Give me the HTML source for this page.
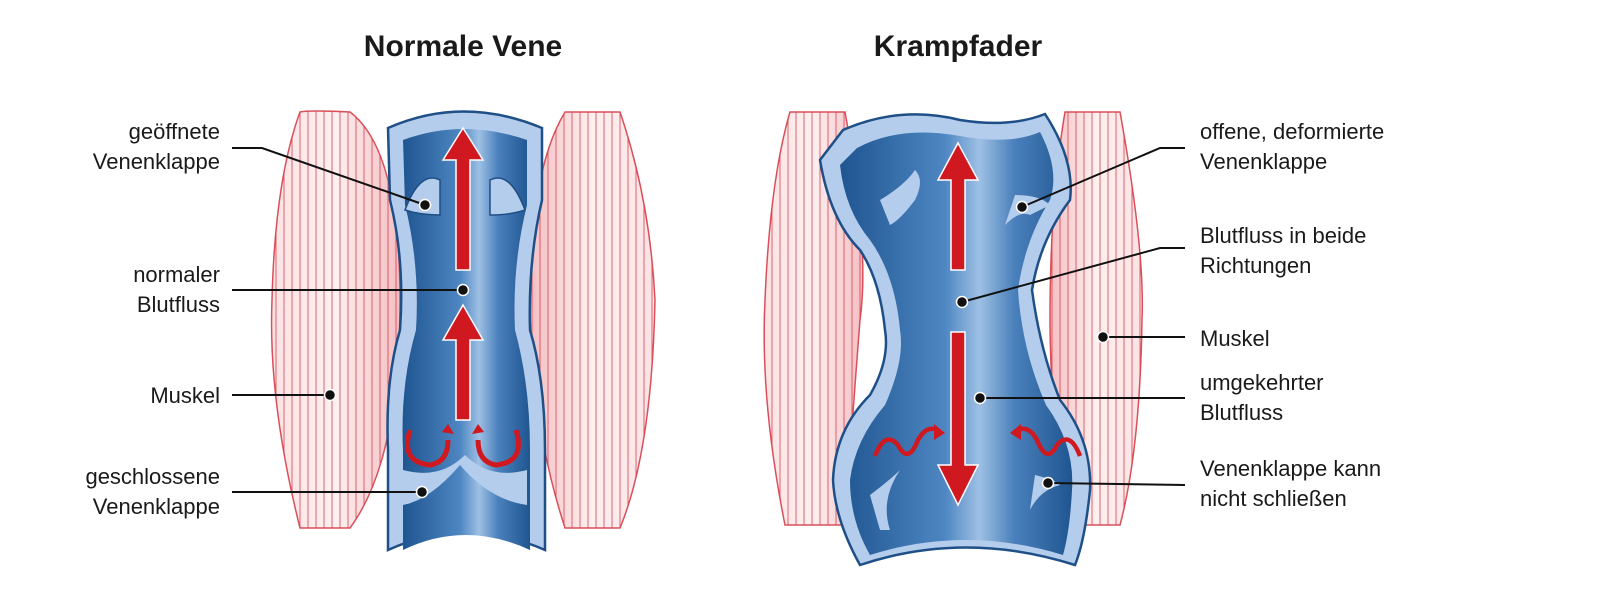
<!DOCTYPE html>
<html><head><meta charset="utf-8"><style>
html,body{margin:0;padding:0;background:#fff;}
svg{display:block;}
text{font-family:"Liberation Sans",sans-serif;fill:#1a1a1a;}
</style></head><body>
<svg width="1600" height="613" viewBox="0 0 1600 613" xmlns="http://www.w3.org/2000/svg">
<defs>
<linearGradient id="mus" x1="0" x2="1" y1="0" y2="0">
<stop offset="0" stop-color="#fbe3e5"/><stop offset="0.5" stop-color="#fdf0f0"/><stop offset="1" stop-color="#f4bfc3"/>
</linearGradient>
<linearGradient id="mus2" x1="0" x2="1" y1="0" y2="0">
<stop offset="0" stop-color="#f4bfc3"/><stop offset="0.5" stop-color="#fdf0f0"/><stop offset="1" stop-color="#fbe3e5"/>
</linearGradient>
<linearGradient id="inner" x1="0" x2="1">
<stop offset="0" stop-color="#1f5590"/><stop offset="0.45" stop-color="#4d86c2"/><stop offset="0.6" stop-color="#9ec0e4"/><stop offset="0.75" stop-color="#4a80bb"/><stop offset="1" stop-color="#1f5590"/>
</linearGradient>
<pattern id="lines" width="8" height="10" patternUnits="userSpaceOnUse"><line x1="4" y1="0" x2="4" y2="10" stroke="#d8404c" stroke-width="1"/></pattern>
</defs>

<text x="463" y="56" font-size="30" font-weight="bold" text-anchor="middle">Normale Vene</text>
<text x="958" y="56" font-size="30" font-weight="bold" text-anchor="middle">Krampfader</text>

<!-- left muscles -->
<path d="M300,112 Q310,110 350,112 Q400,150 400,300 Q400,460 350,528 L300,528 Q268,400 272,300 Q275,180 300,112Z" fill="url(#mus)" stroke="#d9505a" stroke-width="1.5"/>
<path d="M300,112 Q310,110 350,112 Q400,150 400,300 Q400,460 350,528 L300,528 Q268,400 272,300 Q275,180 300,112Z" fill="url(#lines)" opacity="0.8"/>
<path d="M565,112 L620,112 Q650,200 655,300 Q652,450 620,528 L565,528 Q530,420 530,300 Q530,170 565,112Z" fill="url(#mus2)" stroke="#d9505a" stroke-width="1.5"/>
<path d="M565,112 L620,112 Q650,200 655,300 Q652,450 620,528 L565,528 Q530,420 530,300 Q530,170 565,112Z" fill="url(#lines)" opacity="0.8"/>

<!-- left vein -->
<path d="M388,128 Q463,95 542,128 L542,200 Q528,260 530,330 Q545,380 545,450 L545,550 Q465,515 388,550 L388,450 Q385,380 400,330 Q405,260 390,200Z" fill="#b5cdec" stroke="#1e4f86" stroke-width="2.5"/>
<path d="M403,140 Q463,118 527,140 L527,205 Q512,265 515,330 Q530,385 530,450 L530,550 Q465,520 403,550 L403,450 Q400,385 416,330 Q420,265 405,205Z" fill="url(#inner)"/>
<path d="M403,505 Q430,500 460,465 Q490,500 527,505 L527,470 Q490,480 465,455 Q440,480 403,470Z" fill="#b5cdec"/>
<path d="M405,210 Q420,170 440,180 L440,215 Q420,215 405,210Z M525,210 Q510,170 490,180 L490,215 Q510,215 525,210Z" fill="#b5cdec" stroke="#1e4f86" stroke-width="1.5"/>
<path d="M456,270 L456,160 L443,160 L463,128 L483,160 L470,160 L470,270Z" fill="#d01820" stroke="#fff" stroke-width="1.5"/>
<path d="M456,420 L456,340 L443,340 L463,305 L483,340 L470,340 L470,420Z" fill="#d01820" stroke="#fff" stroke-width="1.5"/>
<path d="M410,430 Q400,462 430,465 Q448,462 448,440" fill="none" stroke="#d01820" stroke-width="5"/>
<path d="M516,430 Q526,462 496,465 Q478,462 478,440" fill="none" stroke="#d01820" stroke-width="5"/>
<path d="M442,432 L448,424 L454,434Z M472,434 L478,424 L484,432Z" fill="#d01820"/>

<!-- right muscles -->
<path d="M790,112 L845,112 Q870,250 860,320 Q850,450 845,525 L785,525 Q760,400 765,300 Q770,180 790,112Z" fill="url(#mus)" stroke="#d9505a" stroke-width="1.5"/>
<path d="M790,112 L845,112 Q870,250 860,320 Q850,450 845,525 L785,525 Q760,400 765,300 Q770,180 790,112Z" fill="url(#lines)" opacity="0.8"/>
<path d="M1065,112 L1120,112 Q1145,250 1142,320 Q1140,450 1120,525 L1065,525 Q1050,400 1050,320 Q1050,200 1065,112Z" fill="url(#mus2)" stroke="#d9505a" stroke-width="1.5"/>
<path d="M1065,112 L1120,112 Q1145,250 1142,320 Q1140,450 1120,525 L1065,525 Q1050,400 1050,320 Q1050,200 1065,112Z" fill="url(#lines)" opacity="0.8"/>

<!-- right vein -->
<path d="M843,130 Q900,105 960,120 Q1010,128 1045,114 Q1075,160 1070,200 Q1040,240 1032,290 Q1040,350 1060,400 Q1092,440 1090,490 Q1085,540 1075,565 Q965,530 860,565 Q835,520 833,480 Q835,430 870,395 Q890,360 885,330 Q880,280 860,250 Q830,220 820,160Z" fill="#b5cdec" stroke="#1e4f86" stroke-width="2.5"/>
<path d="M857,148 Q900,125 960,136 Q1010,145 1040,132 Q1060,170 1050,200 Q1025,240 1018,290 Q1022,350 1046,405 Q1075,445 1072,490 Q1070,530 1063,555 Q965,525 870,555 Q850,520 850,480 Q855,440 885,405 Q905,360 900,330 Q895,275 870,240 Q845,210 840,165Z" fill="url(#inner)"/>
<path d="M880,200 Q905,185 915,170 Q925,180 915,200 Q900,220 890,225Z M1015,195 Q1040,195 1050,205 L1030,215 Q1020,210 1005,225Z M870,495 Q890,480 900,470 Q880,500 890,530 L880,530Z M1035,475 Q1055,480 1060,485 Q1040,490 1030,510Z" fill="#b5cdec"/>
<path d="M951,270 L951,180 L938,180 L958,143 L978,180 L965,180 L965,270Z" fill="#d01820" stroke="#fff" stroke-width="1.5"/>
<path d="M951,332 L951,465 L938,465 L958,505 L978,465 L965,465 L965,332Z" fill="#d01820" stroke="#fff" stroke-width="1.5"/>
<path d="M875,456 Q885,430 898,445 Q908,465 918,440 Q926,425 938,430" fill="none" stroke="#d01820" stroke-width="4.5"/>
<path d="M1080,456 Q1070,430 1057,445 Q1047,465 1037,440 Q1029,425 1017,430" fill="none" stroke="#d01820" stroke-width="4.5"/>
<path d="M934,424 L945,433 L934,440Z M1021,424 L1010,433 L1021,440Z" fill="#d01820"/>

<g stroke="#111" stroke-width="2" fill="none">
<polyline points="232,148 262,148 425,205"/>
<line x1="232" y1="290" x2="463" y2="290"/>
<line x1="232" y1="395" x2="330" y2="395"/>
<line x1="232" y1="492" x2="422" y2="492"/>
<polyline points="1185,148 1160,148 1022,207"/>
<polyline points="1185,248 1160,248 962,302"/>
<line x1="1185" y1="337" x2="1103" y2="337"/>
<line x1="1185" y1="398" x2="980" y2="398"/>
<line x1="1185" y1="485" x2="1048" y2="483"/>
</g>
<g fill="#111" stroke="#fff" stroke-width="1.5">
<circle cx="425" cy="205" r="5.5"/><circle cx="463" cy="290" r="5.5"/><circle cx="330" cy="395" r="5.5"/><circle cx="422" cy="492" r="5.5"/>
<circle cx="1022" cy="207" r="5.5"/><circle cx="962" cy="302" r="5.5"/><circle cx="1103" cy="337" r="5.5"/><circle cx="980" cy="398" r="5.5"/><circle cx="1048" cy="483" r="5.5"/>
</g>

<g font-size="22" text-anchor="end">
<text x="220" y="139">geöffnete</text><text x="220" y="169">Venenklappe</text>
<text x="220" y="282">normaler</text><text x="220" y="312">Blutfluss</text>
<text x="220" y="403">Muskel</text>
<text x="220" y="484">geschlossene</text><text x="220" y="514">Venenklappe</text>
</g>
<g font-size="22">
<text x="1200" y="139">offene, deformierte</text><text x="1200" y="169">Venenklappe</text>
<text x="1200" y="243">Blutfluss in beide</text><text x="1200" y="273">Richtungen</text>
<text x="1200" y="346">Muskel</text>
<text x="1200" y="390">umgekehrter</text><text x="1200" y="420">Blutfluss</text>
<text x="1200" y="476">Venenklappe kann</text><text x="1200" y="506">nicht schließen</text>
</g>
</svg>
</body></html>
